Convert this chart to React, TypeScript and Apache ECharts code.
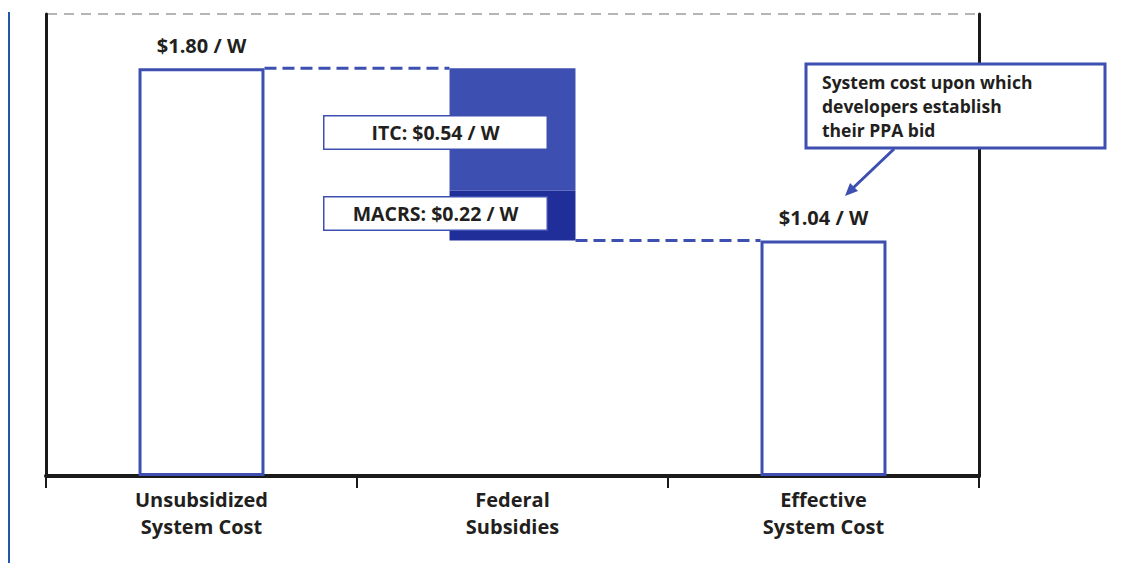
import React, { useEffect, useRef } from "react";
import * as echarts from "echarts";

const categories = ["Unsubsidized\nSystem Cost", "Federal\nSubsidies", "Effective\nSystem Cost"];
const totalValues: (number | string)[] = [1.8, "-", 1.04];
const baseValues: (number | string)[] = ["-", 1.04, "-"];
const macrsValues: (number | string)[] = ["-", 0.22, "-"];
const itcValues: (number | string)[] = ["-", 0.54, "-"];
const totalLabels = ["$1.80 / W", "", "$1.04 / W"];
const itcLabel = "ITC: $0.54 / W";
const macrsLabel = "MACRS: $0.22 / W";
const connectors = [
  [0, 1, 1.8],
  [1, 2, 1.04],
];
const calloutLines = ["System cost upon which", "developers establish", "their PPA bid"];

const BLUE = "#3d4fb0";
const DARK_BLUE = "#1f2e98";
const TEXT = "#231f20";
const FONT = "'Open Sans', 'Noto Sans', sans-serif";

export default function App() {
  const ref = useRef<HTMLDivElement>(null);
  useEffect(() => {
    if (!ref.current) return;
    const chart = echarts.init(ref.current, undefined, { renderer: "svg" });
    const boxLabel = (text: string, offset: number[]) => ({
      show: true,
      position: "inside",
      offset,
      formatter: text,
      color: TEXT,
      fontFamily: FONT,
      fontWeight: "bold",
      fontSize: 19.5,
      backgroundColor: "#ffffff",
      borderColor: BLUE,
      borderWidth: 1.5,
      width: 222,
      height: 32,
      lineHeight: 32,
      align: "center",
    });
    chart.setOption({
      animation: false,
      grid: { left: 46, right: 167, top: 14, bottom: 87, containLabel: false },
      xAxis: {
        type: "category",
        data: categories,
        axisLine: { show: true, lineStyle: { color: "#1a1a1a", width: 4 } },
        axisTick: { show: true, length: 12, lineStyle: { color: "#1a1a1a", width: 2 } },
        axisLabel: {
          color: TEXT,
          fontFamily: FONT,
          fontWeight: "bold",
          fontSize: 20,
          lineHeight: 27,
          margin: 10,
        },
      },
      yAxis: [
        {
          type: "value",
          min: 0,
          max: 2.04,
          interval: 2.04,
          axisLine: { show: true, lineStyle: { color: "#1a1a1a", width: 3 } },
          axisTick: { show: false },
          axisLabel: { show: false },
          splitLine: { show: false },
        },
        {
          type: "value",
          position: "right",
          min: 0,
          max: 2.04,
          interval: 2.04,
          axisLine: { show: true, lineStyle: { color: "#1a1a1a", width: 3 } },
          axisTick: { show: false },
          axisLabel: { show: false },
          splitLine: { show: false },
        },
      ],
      series: [
        {
          type: "bar",
          stack: "s",
          barWidth: "40.5%",
          data: totalValues,
          itemStyle: { color: "#ffffff", borderColor: BLUE, borderWidth: 3 },
          label: {
            show: true,
            position: "top",
            distance: 13,
            formatter: (p: any) => totalLabels[p.dataIndex],
            color: TEXT,
            fontFamily: FONT,
            fontWeight: "bold",
            fontSize: 20,
          },
        },
        {
          type: "bar",
          stack: "s",
          barWidth: "40.5%",
          data: baseValues,
          itemStyle: { color: "rgba(0,0,0,0)" },
          silent: true,
        },
        {
          type: "bar",
          stack: "s",
          barWidth: "40.5%",
          data: macrsValues,
          itemStyle: { color: DARK_BLUE },
          label: boxLabel(macrsLabel, [-77, -2]),
          z: 3,
        },
        {
          type: "bar",
          stack: "s",
          barWidth: "40.5%",
          data: itcValues,
          itemStyle: { color: BLUE },
          label: boxLabel(itcLabel, [-77, 3]),
          z: 3,
        },
        {
          type: "custom",
          data: connectors,
          encode: { x: 0, y: 2 },
          z: 4,
          renderItem: (params: any, api: any) => {
            const v = api.value(2);
            const a = api.coord([api.value(0), v]);
            const b = api.coord([api.value(1), v]);
            const half = (api.size([1, 0])[0] * 0.405) / 2;
            return {
              type: "line",
              shape: { x1: a[0] + half, y1: a[1], x2: b[0] - half, y2: b[1] },
              style: { stroke: BLUE, lineWidth: 3, lineDash: [12, 6] },
            };
          },
        },
      ],
      graphic: [
        {
          type: "line",
          shape: { x1: 9, y1: 12, x2: 9, y2: 563 },
          style: { stroke: "#1e5aa8", lineWidth: 2 },
        },
        {
          type: "line",
          shape: { x1: 47, y1: 14, x2: 979, y2: 14 },
          style: { stroke: "#b5b5b5", lineWidth: 2, lineDash: [10, 7] },
        },
        {
          type: "rect",
          shape: { x: 806, y: 64, width: 299, height: 84 },
          style: { fill: "#ffffff", stroke: BLUE, lineWidth: 3 },
          z: 10,
        },
        ...calloutLines.map((line, i) => ({
          type: "text",
          x: 822,
          y: 82 + i * 24,
          z: 11,
          style: {
            text: line,
            fill: TEXT,
            font: `bold 17.5px ${FONT}`,
            verticalAlign: "middle",
            lineHeight: 18,
          },
        })),
        {
          type: "line",
          shape: { x1: 894, y1: 149, x2: 852, y2: 189 },
          style: { stroke: BLUE, lineWidth: 3 },
          z: 10,
        },
        {
          type: "polygon",
          shape: { points: [[845, 196], [858, 191], [850, 183]] },
          style: { fill: BLUE },
          z: 10,
        },
      ],
    });
    return () => chart.dispose();
  }, []);
  return <div ref={ref} style={{ width: 1146, height: 563, position: "absolute", left: 0, top: 0 }} />;
}
